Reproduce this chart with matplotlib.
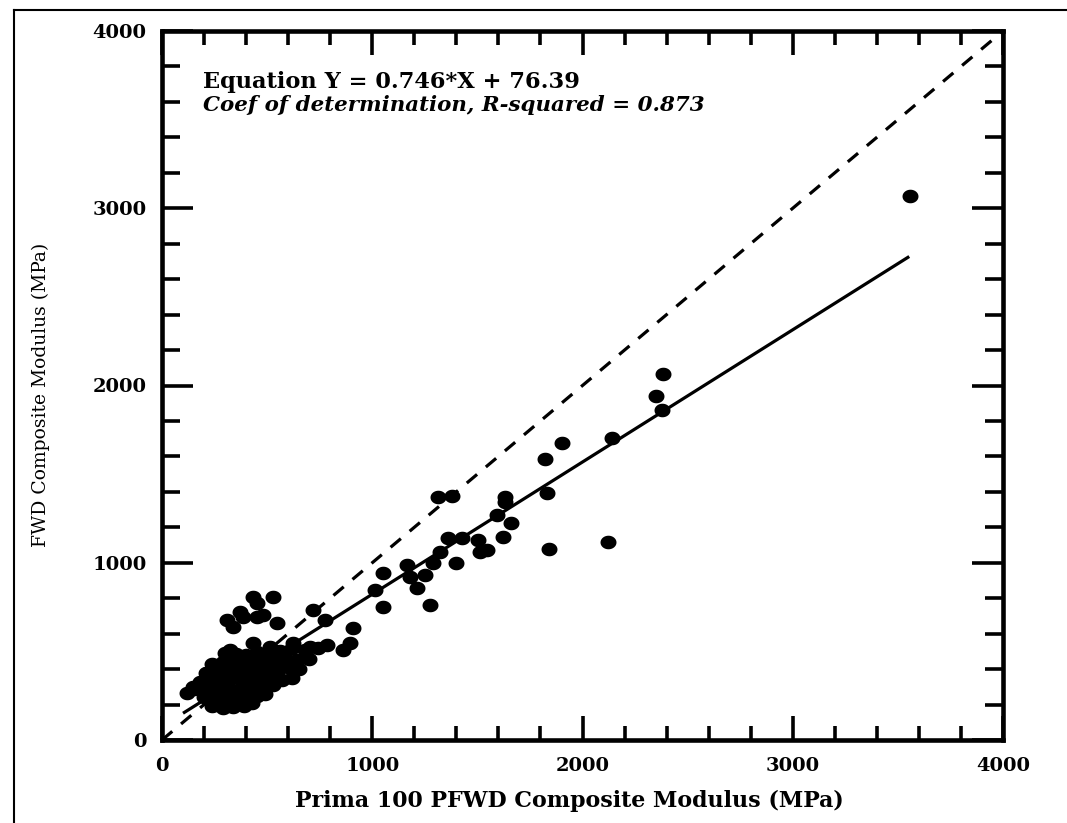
import numpy as np
import matplotlib
matplotlib.use("Agg")
import matplotlib.pyplot as plt
from matplotlib.path import Path
from matplotlib.lines import Line2D

# ---- data ----
cluster_x = [240, 290, 340, 390, 430,
             200, 250, 300, 350, 400, 450, 490,
             150, 190, 230, 280, 330, 380, 430, 480, 530,
             180, 220, 270, 320, 370, 420, 470, 520, 570, 620,
             210, 250, 300, 350, 400, 450, 500, 550, 600, 650,
             240, 290, 340, 390, 440, 490, 540, 590, 640, 700,
             300, 350, 400, 450, 500, 560, 620, 680, 740, 783,
             117, 149, 181, 213, 323, 466, 514, 624, 704,
             265, 315, 365, 415, 465, 225, 275, 325, 375, 425, 525, 575]
cluster_y = [190, 180, 185, 190, 210,
             240, 235, 230, 240, 245, 250, 260,
             290, 300, 285, 290, 280, 295, 300, 290, 310,
             330, 345, 335, 340, 345, 340, 350, 345, 340, 350,
             380, 395, 390, 385, 395, 390, 400, 395, 410, 400,
             430, 440, 445, 435, 445, 450, 440, 455, 450, 455,
             490, 485, 480, 495, 490, 500, 520, 510, 520, 536,
             263, 301, 320, 376, 508, 470, 526, 545, 526,
             210, 205, 215, 225, 265, 315, 365, 415, 465, 470, 370, 420]
upper_x = [308, 339, 371, 387, 434, 450, 450, 482, 529, 546, 434, 720, 775]
upper_y = [677, 639, 724, 696, 808, 771, 696, 705, 808, 658, 545, 733, 677]
mid_x = [863, 894, 910, 1013, 1053, 1053, 1164, 1179, 1212, 1251, 1275, 1291,
         1322, 1362, 1426, 1398, 1505, 1545, 1512, 1315, 1378, 1592, 1623,
         1631, 1631, 1660, 1820, 1831, 1842, 1901, 2139, 2120, 2376, 2350,
         2383, 3560]
mid_y = [508, 545, 630, 846, 748, 944, 987, 921, 855, 931, 762, 997,
         1063, 1137, 1137, 1001, 1128, 1072, 1063, 1373, 1377, 1269, 1147,
         1371, 1344, 1222, 1583, 1392, 1078, 1677, 1702, 1115, 1862, 1941,
         2065, 3070]

slope = 0.746
intercept = 76.39
fit_range = [100, 3554]
equal_line = [0, 4000]

x_all = np.array(cluster_x + upper_x + mid_x, dtype=float)
y_all = np.array(cluster_y + upper_y + mid_y, dtype=float)

# ---- figure ----
fig = plt.figure(figsize=(10.67, 8.23), dpi=100)
ax = fig.add_axes([162/1067, 1-740/823, 841/1067, 709/823])

# elliptical marker (slightly wider than tall)
t = np.linspace(0, 2*np.pi, 60)
verts = np.column_stack([np.cos(t), 0.85*np.sin(t)])
ell = Path(verts, closed=True)

ax.plot(x_all, y_all, linestyle='none', marker=ell, markersize=11.5,
        color='black', markeredgewidth=0, zorder=3)

fx = np.array(fit_range, dtype=float)
ax.plot(fx, slope*fx + intercept, color='black', lw=2.3, zorder=2,
        solid_capstyle='butt')
ax.plot(equal_line, equal_line, color='black', lw=2.3, zorder=2,
        linestyle=(0, (4.2, 3.6)), dash_capstyle='butt')

ax.set_xlim(0, 4000)
ax.set_ylim(0, 4000)
ax.set_xticks([0, 1000, 2000, 3000, 4000])
ax.set_yticks([0, 1000, 2000, 3000, 4000])
ax.set_xticks(np.arange(0, 4001, 200), minor=True)
ax.set_yticks(np.arange(0, 4001, 200), minor=True)

tickfont = dict(family='DejaVu Serif', weight='bold', size=14)
ax.set_xticklabels(['0', '1000', '2000', '3000', '4000'], **tickfont)
ax.set_yticklabels(['0', '1000', '2000', '3000', '4000'], **tickfont)

for s in ax.spines.values():
    s.set_linewidth(3.3)
ax.tick_params(axis='both', which='both', direction='in', top=True,
               right=True, width=2.6, color='black')
ax.tick_params(axis='x', which='major', length=17, pad=12)
ax.tick_params(axis='x', which='minor', length=10)
ax.tick_params(axis='y', which='major', length=22, pad=11)
ax.tick_params(axis='y', which='minor', length=13)

ax.set_xlabel('Prima 100 PFWD Composite Modulus (MPa)',
              family='DejaVu Serif', weight='bold', size=15.9)
ax.xaxis.set_label_coords((569-162)/841, -50/709)
ax.set_ylabel('FWD Composite Modulus (MPa)', family='DejaVu Serif',
              size=13.5)
ax.yaxis.set_label_coords(-(162-50)/841, (740-395)/709)

ax.text(0.049, 0.928, 'Equation Y = 0.746*X + 76.39', transform=ax.transAxes,
        family='DejaVu Serif', weight='bold', size=16.2, va='center')
ax.text(0.049, 0.895, 'Coef of determination, R-squared = 0.873',
        transform=ax.transAxes, family='DejaVu Serif', weight='bold',
        style='italic', size=15.4, va='center')

# page frame remnants
fig.add_artist(Line2D([14/1067, 14/1067], [0, 1-10/823], color='black',
                      lw=1.5, transform=fig.transFigure))
fig.add_artist(Line2D([14/1067, 1], [1-10/823, 1-10/823], color='black',
                      lw=1.5, transform=fig.transFigure))

fig.savefig('out.png', dpi=100)
